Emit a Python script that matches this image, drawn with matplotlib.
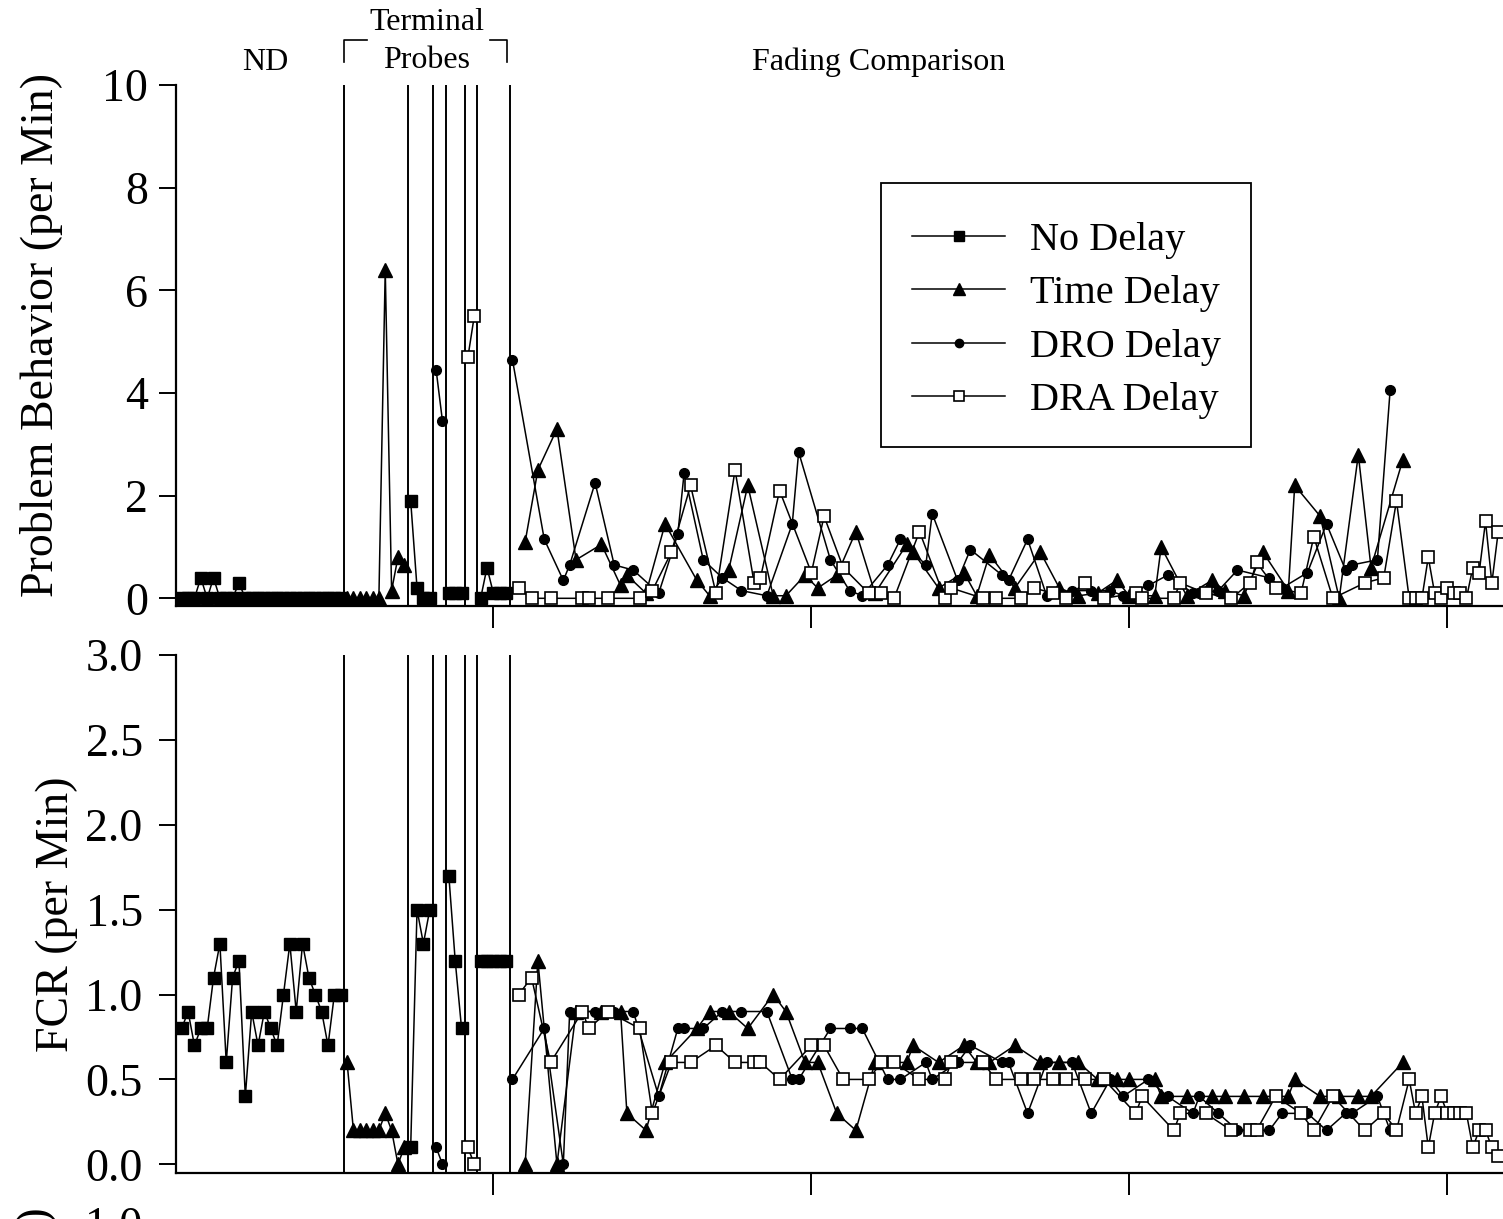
import matplotlib
matplotlib.use('Agg')
import matplotlib.pyplot as plt
from matplotlib.lines import Line2D
from matplotlib.patches import Rectangle
from matplotlib.ticker import FormatStrFormatter

plt.rcParams['font.family'] = ['Liberation Serif', 'DejaVu Serif']

# ---- data (sessions, problem behavior per min, FCR per min) ----
# baseline, no delay
nd1_sess = list(range(1, 27))
nd1_pb = [0, 0, 0, 0.4, 0, 0.4, 0, 0, 0, 0.3, 0, 0, 0, 0, 0, 0, 0, 0, 0, 0, 0, 0, 0, 0, 0, 0]
nd1_fcr = [0.8, 0.9, 0.7, 0.8, 0.8, 1.1, 1.3, 0.6, 1.1, 1.2, 0.4, 0.9, 0.7, 0.9, 0.8, 0.7,
           1.0, 1.3, 0.9, 1.3, 1.1, 1.0, 0.9, 0.7, 1.0, 1.0]

# terminal probes
tdp_sess = list(range(27, 37))
tdp_pb = [0, 0, 0, 0, 0, 0, 6.4, 0.15, 0.8, 0.65]
tdp_fcr = [0.6, 0.2, 0.2, 0.2, 0.2, 0.2, 0.3, 0.2, 0.0, 0.1]

nd2_sess = [37, 38, 39, 40]
nd2_pb = [1.9, 0.2, 0, 0]
nd2_fcr = [0.1, 1.5, 1.3, 1.5]

drop_sess = [41, 42]
drop_pb = [4.45, 3.45]
drop_fcr = [0.1, 0.0]

nd3_sess = [43, 44, 45]
nd3_pb = [0.1, 0.1, 0.1]
nd3_fcr = [1.7, 1.2, 0.8]

drap_sess = [46, 47]
drap_pb = [4.7, 5.5]
drap_fcr = [0.1, 0.0]

nd4_sess = [48, 49, 50, 51, 52]
nd4_pb = [0, 0.6, 0.1, 0.1, 0.1]
nd4_fcr = [1.2, 1.2, 1.2, 1.2, 1.2]

# fading comparison
td_sess = [55, 57, 60, 63, 67, 70, 71, 74, 77, 82, 84, 87, 90, 94, 96, 99, 101, 104, 107, 110,
           115, 116, 120, 124, 126, 128, 132, 136, 139, 142, 145, 148, 150, 154, 155, 159, 163,
           165, 168, 171, 175, 176, 180, 183, 186, 188, 193]
td_pb = [1.1, 2.5, 3.3, 0.75, 1.05, 0.25, 0.45, 0.1, 1.45, 0.35, 0.05, 0.55, 2.2, 0.05, 0.05,
         0.45, 0.2, 0.45, 1.3, 0.1, 1.05, 0.9, 0.2, 0.5, 0.05, 0.85, 0.2, 0.9, 0.2, 0.05, 0.1,
         0.35, 0.05, 0.05, 1.0, 0.05, 0.35, 0.15, 0.05, 0.9, 0.15, 2.2, 1.6, 0.0, 2.8, 0.6, 2.7]
td_fcr = [0.0, 1.2, 0.0, 0.9, 0.9, 0.9, 0.3, 0.2, 0.6, 0.8, 0.9, 0.9, 0.8, 1.0, 0.9, 0.6, 0.6,
          0.3, 0.2, 0.6, 0.6, 0.7, 0.6, 0.7, 0.6, 0.6, 0.7, 0.6, 0.6, 0.6, 0.5, 0.5, 0.5, 0.5,
          0.4, 0.4, 0.4, 0.4, 0.4, 0.4, 0.4, 0.5, 0.4, 0.4, 0.4, 0.4, 0.6]

dro_sess = [53, 58, 61, 62, 66, 69, 72, 76, 79, 80, 83, 86, 89, 93, 97, 98, 103, 106, 108, 112,
            114, 118, 119, 123, 125, 130, 131, 134, 137, 141, 144, 147, 149, 153, 156, 160, 161,
            164, 167, 172, 174, 178, 181, 184, 185, 189, 191]
dro_pb = [4.65, 1.15, 0.35, 0.65, 2.25, 0.65, 0.55, 0.1, 1.25, 2.45, 0.75, 0.4, 0.15, 0.05, 1.45,
          2.85, 0.75, 0.15, 0.05, 0.65, 1.15, 0.65, 1.65, 0.35, 0.95, 0.45, 0.35, 1.15, 0.05,
          0.15, 0.15, 0.15, 0.05, 0.25, 0.45, 0.1, 0.1, 0.15, 0.55, 0.4, 0.2, 0.5, 1.45, 0.55,
          0.65, 0.75, 4.05]
dro_fcr = [0.5, 0.8, 0.0, 0.9, 0.9, 0.9, 0.9, 0.4, 0.8, 0.8, 0.8, 0.9, 0.9, 0.9, 0.5, 0.5, 0.8,
           0.8, 0.8, 0.5, 0.5, 0.6, 0.5, 0.6, 0.7, 0.6, 0.6, 0.3, 0.6, 0.6, 0.3, 0.5, 0.4, 0.5,
           0.4, 0.3, 0.4, 0.3, 0.2, 0.2, 0.3, 0.3, 0.2, 0.3, 0.3, 0.4, 0.2]

dra_sess = [54, 56, 59, 64, 65, 68, 73, 75, 78, 81, 85, 88, 91, 92, 95, 100, 102, 105, 109, 111,
            113, 117, 121, 122, 127, 129, 133, 135, 138, 140, 143, 146, 151, 152, 157, 158, 162,
            166, 169, 170, 173, 177, 179, 182, 187, 190, 192, 194, 195, 196, 197, 198, 199, 200,
            201, 202, 203, 204, 205, 206, 207, 208]
dra_pb = [0.2, 0, 0, 0, 0, 0, 0, 0.15, 0.9, 2.2, 0.1, 2.5, 0.3, 0.4, 2.1, 0.5, 1.6, 0.6, 0.1, 0.1,
          0, 1.3, 0, 0.2, 0, 0, 0, 0.2, 0.1, 0, 0.3, 0, 0.1, 0, 0, 0.3, 0.1, 0, 0.3, 0.7, 0.2,
          0.1, 1.2, 0, 0.3, 0.4, 1.9, 0, 0, 0, 0.8, 0.1, 0, 0.2, 0.1, 0.1, 0, 0.6, 0.5, 1.5, 0.3,
          1.3]
dra_fcr = [1.0, 1.1, 0.6, 0.9, 0.8, 0.9, 0.8, 0.3, 0.6, 0.6, 0.7, 0.6, 0.6, 0.6, 0.5, 0.7, 0.7,
           0.5, 0.5, 0.6, 0.6, 0.5, 0.5, 0.6, 0.6, 0.5, 0.5, 0.5, 0.5, 0.5, 0.5, 0.5, 0.3, 0.4,
           0.2, 0.3, 0.3, 0.2, 0.2, 0.2, 0.4, 0.3, 0.2, 0.4, 0.2, 0.3, 0.2, 0.5, 0.3, 0.4, 0.1,
           0.3, 0.4, 0.3, 0.3, 0.3, 0.3, 0.1, 0.2, 0.2, 0.1, 0.05]

phase_lines = [26.5, 36.5, 40.5, 42.5, 45.5, 47.5, 52.6]
legend_labels = ['No Delay', 'Time Delay', 'DRO Delay', 'DRA Delay']

# ---- styles ----
lw = 1.1
nd_style = dict(color='black', lw=lw, marker='s', ms=8.5, mfc='black', mec='black')
td_style = dict(color='black', lw=lw, marker='^', ms=9.5, mfc='black', mec='black')
dro_style = dict(color='black', lw=lw, marker='o', ms=7, mfc='black', mec='black')
dra_style = dict(color='black', lw=lw, marker='s', ms=8.5, mfc='white', mec='black', mew=1.2)

W, H = 1503, 1219
fig = plt.figure(figsize=(W / 100, H / 100), dpi=100)


def fx(px):
    return px / W


def fy(py):
    return 1 - py / H


left = fx(176)
width = 1 - left
ax1 = fig.add_axes([left, fy(605.7), width, fy(85) - fy(605.7)])
ax2 = fig.add_axes([left, fy(1173.3), width, fy(655) - fy(1173.3)])
ax3 = fig.add_axes([left, -0.4, width, fy(1223) + 0.4])

segments = [
    (nd1_sess, nd1_pb, nd1_fcr, nd_style),
    (tdp_sess, tdp_pb, tdp_fcr, td_style),
    (nd2_sess, nd2_pb, nd2_fcr, nd_style),
    (drop_sess, drop_pb, drop_fcr, dro_style),
    (nd3_sess, nd3_pb, nd3_fcr, nd_style),
    (drap_sess, drap_pb, drap_fcr, dra_style),
    (nd4_sess, nd4_pb, nd4_fcr, nd_style),
    (td_sess, td_pb, td_fcr, td_style),
    (dro_sess, dro_pb, dro_fcr, dro_style),
    (dra_sess, dra_pb, dra_fcr, dra_style),
]
for i, (s, pb, fcr, st) in enumerate(segments):
    ax1.plot(s, pb, zorder=3 + i * 0.1, **st)
    ax2.plot(s, fcr, zorder=3 + i * 0.1, **st)

xmin, xmax = 0.1, 208.75
for ax in (ax1, ax2, ax3):
    ax.set_xlim(xmin, xmax)
    ax.spines['top'].set_visible(False)
    ax.spines['right'].set_visible(False)
    for sp in ('left', 'bottom'):
        ax.spines[sp].set_linewidth(1.6)
    ax.set_xticks([50, 100, 150, 200])
    ax.tick_params(axis='x', direction='out', length=16, width=1.4, labelbottom=False)
    ax.tick_params(axis='y', direction='out', length=12, width=1.4, labelsize=33, pad=8)
ax2.tick_params(axis='y', pad=12)
ax3.tick_params(axis='y', pad=12)

for x in phase_lines:
    ax1.axvline(x, color='black', lw=1.4, zorder=2)
    ax2.axvline(x, color='black', lw=1.4, zorder=2)

ax1.set_ylim(-0.144, 10)
ax1.set_yticks([0, 2, 4, 6, 8, 10])
ax2.set_ylim(-0.053, 3.0)
ax2.set_yticks([0.0, 0.5, 1.0, 1.5, 2.0, 2.5, 3.0])
ax2.yaxis.set_major_formatter(FormatStrFormatter('%.1f'))
ax3.set_ylim(0, 1.0)
ax3.set_yticks([0.0, 0.2, 0.4, 0.6, 0.8, 1.0])
ax3.yaxis.set_major_formatter(FormatStrFormatter('%.1f'))

ax1.set_ylabel('Problem Behavior (per Min)', fontsize=33)
ax1.yaxis.set_label_coords((63 - 176) / (W - 176), 0.52)
ax2.set_ylabel('FCR (per Min)', fontsize=33)
ax2.yaxis.set_label_coords((78 - 176) / (W - 176), 0.5)
fig.text(fx(37), fy(1207), 'Proportion of Delay (per Min)', rotation=90, va='top', ha='center',
         fontsize=33)

# phase labels
fig.text(fx(265), fy(62), 'ND', ha='center', va='center', fontsize=23)
fig.text(fx(427), fy(22), 'Terminal', ha='center', va='center', fontsize=23)
fig.text(fx(427), fy(61), 'Probes', ha='center', va='center', fontsize=23)
fig.text(fx(879), fy(62), 'Fading Comparison', ha='center', va='center', fontsize=23)
fig.add_artist(Line2D([fx(344), fx(344), fx(367)], [fy(62), fy(40), fy(40)],
                      transform=fig.transFigure, color='black', lw=1.2))
fig.add_artist(Line2D([fx(490), fx(507), fx(507)], [fy(40), fy(40), fy(62)],
                      transform=fig.transFigure, color='black', lw=1.2))

# legend
handles = [Line2D([], [], **dict(nd_style, ms=7)),
           Line2D([], [], **dict(td_style, ms=8)),
           Line2D([], [], **dict(dro_style, ms=6)),
           Line2D([], [], **dict(dra_style, ms=7))]
ax1.legend(handles, legend_labels, loc='upper left', bbox_to_anchor=(fx(912), fy(222)),
           bbox_transform=fig.transFigure, frameon=False, borderpad=0, borderaxespad=0,
           handlelength=2.31, handletextpad=0.62, labelspacing=0.40, fontsize=29)
fig.add_artist(Rectangle((fx(881), fy(447)), fx(1251) - fx(881), fy(183) - fy(447),
                         transform=fig.transFigure, fill=False, ec='black', lw=1.3))

fig.savefig('out.png', dpi=100)
